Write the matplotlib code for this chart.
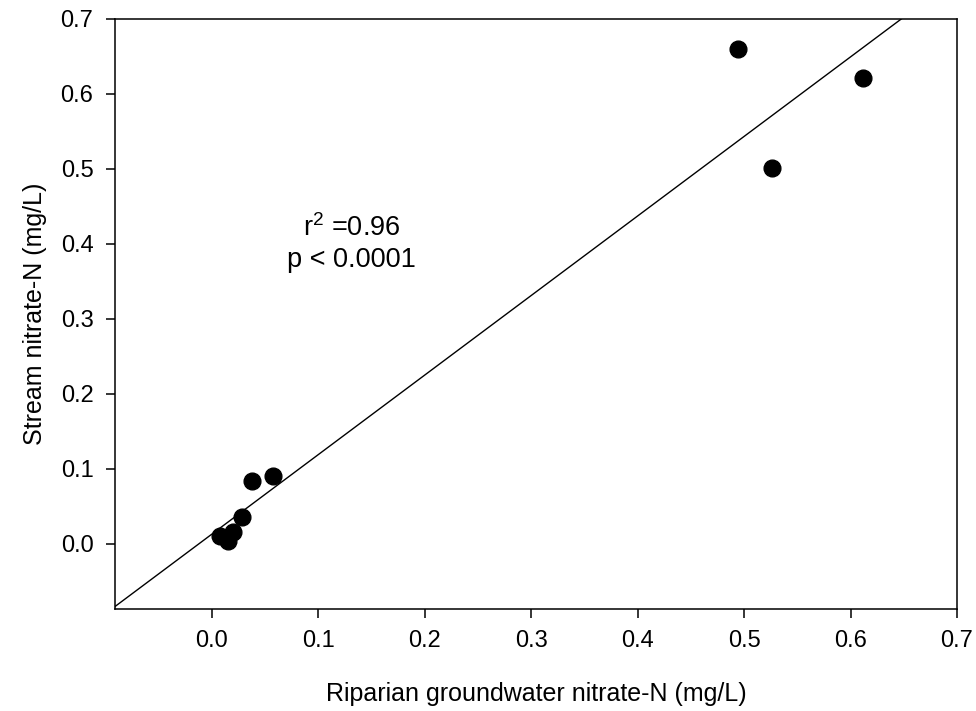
import numpy as np
import matplotlib
matplotlib.use("Agg")
import matplotlib.pyplot as plt

plt.rcParams['font.family'] = ['Liberation Sans', 'DejaVu Sans']
plt.rcParams['mathtext.fontset'] = 'custom'
plt.rcParams['mathtext.rm'] = 'Liberation Sans'
plt.rcParams['mathtext.it'] = 'Liberation Sans'

# riparian groundwater vs stream nitrate-N (mg/L)
groundwater = [0.494, 0.612, 0.526, 0.038, 0.057, 0.028, 0.020, 0.008, 0.015]
stream = [0.660, 0.621, 0.501, 0.084, 0.091, 0.036, 0.016, 0.010, 0.004]
ticks = [0.0, 0.1, 0.2, 0.3, 0.4, 0.5, 0.6, 0.7]
r2_text = "r$^2$ =0.96"
p_text = "p < 0.0001"

fig = plt.figure(figsize=(9.76, 7.11), dpi=100)
ax = fig.add_axes([0.1178, 0.1435, 0.8627, 0.8298])

xlim = (-0.091, 0.7)
ylim = (-0.087, 0.7)

# least squares line through the points
slope, intercept = np.polyfit(groundwater, stream, 1)
xs = np.array(xlim)
ax.plot(xs, slope * xs + intercept, color='black', lw=1.0)

ax.scatter(groundwater, stream, s=145, color='black', zorder=3)

ax.set_xlim(xlim)
ax.set_ylim(ylim)
ax.set_xticks(ticks)
ax.set_yticks(ticks)
ax.set_xticklabels([f"{t:.1f}" for t in ticks])
ax.set_yticklabels([f"{t:.1f}" for t in ticks])

for s in ax.spines.values():
    s.set_linewidth(1.1)
ax.tick_params(direction='out', length=6.5, width=1.1, labelsize=17, pad=9,
               top=False, right=False)

ax.set_xlabel("Riparian groundwater nitrate-N (mg/L)", fontsize=18, labelpad=21)
ax.set_ylabel("Stream nitrate-N (mg/L)", fontsize=18, labelpad=10)

ax.text(0.1316, 0.411, r2_text, fontsize=19.5, ha='center', va='baseline')
ax.text(0.1316, 0.369, p_text, fontsize=19.5, ha='center', va='baseline')

fig.savefig("out.png", dpi=100)
